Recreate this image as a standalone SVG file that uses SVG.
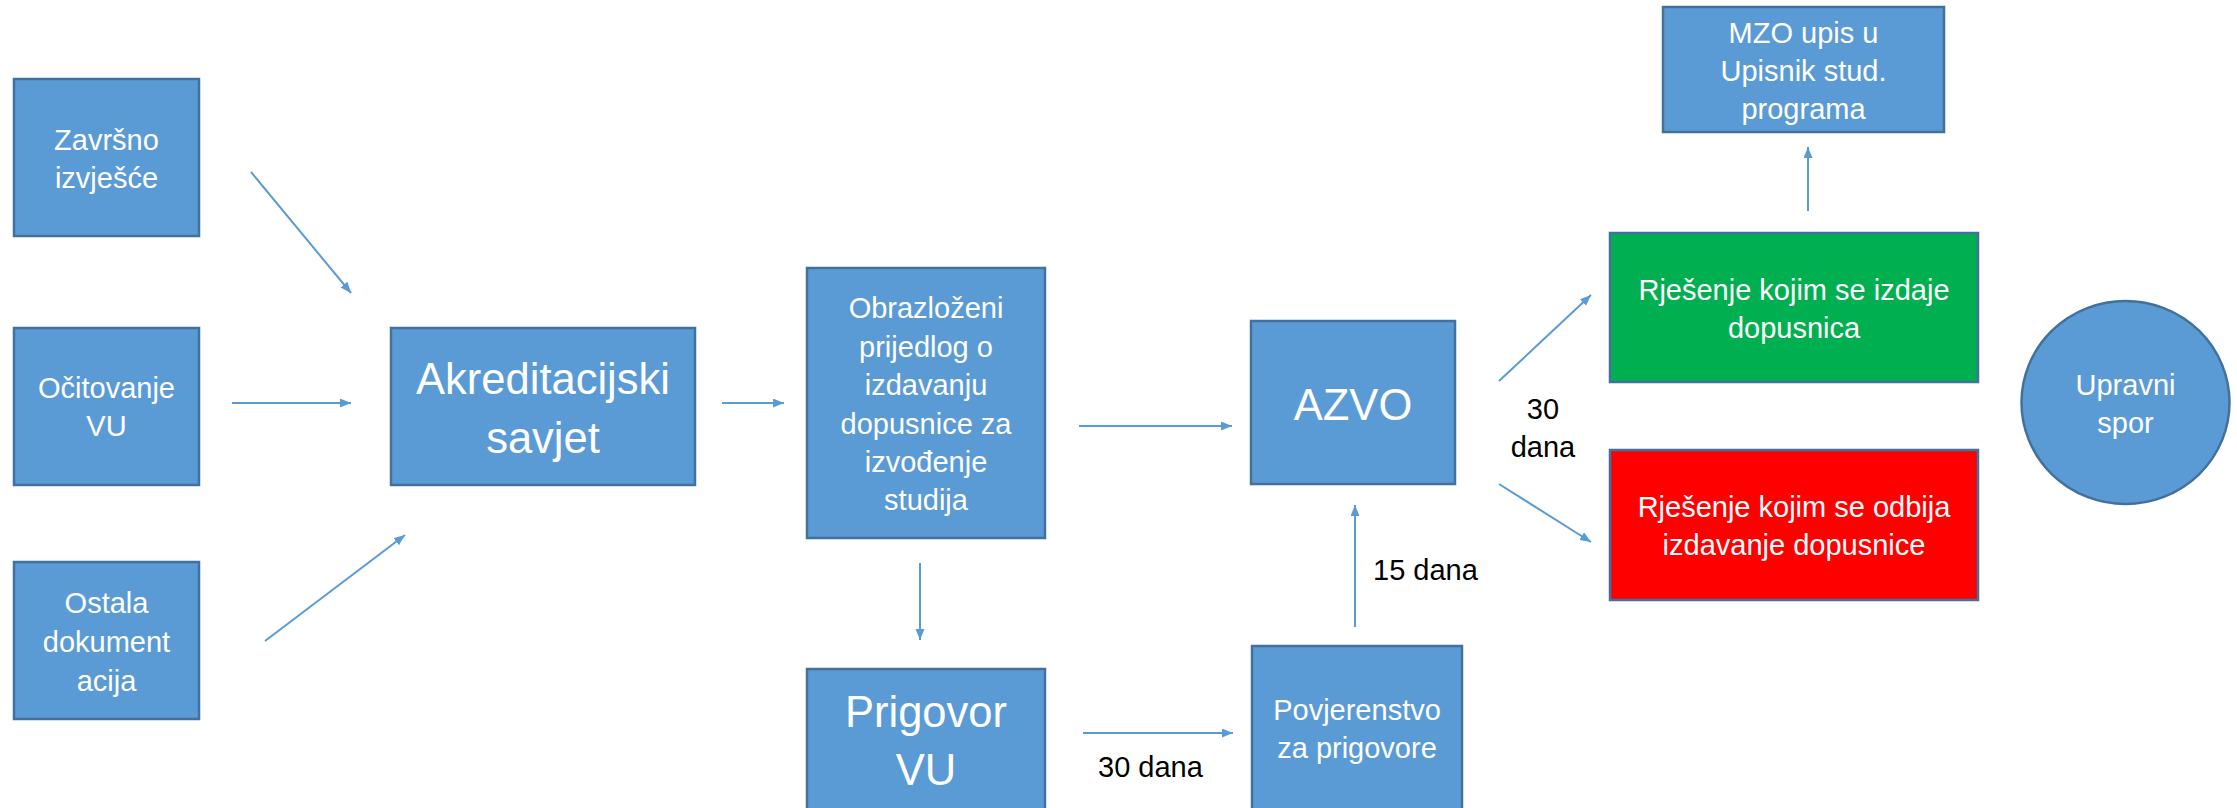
<svg xmlns="http://www.w3.org/2000/svg" width="2237" height="808" viewBox="0 0 2237 808">
<style>
.box{fill:#5B9BD5;stroke:#41719C;stroke-width:2.5}
.green{fill:#00B050;stroke:#41719C;stroke-width:2.5}
.red{fill:#FF0000;stroke:#41719C;stroke-width:2.5}
.t{font-family:"Liberation Sans",Arial,sans-serif;font-size:29px;fill:#FFFFFF;text-anchor:middle}
.big{font-size:43.5px}
.lbl{font-family:"Liberation Sans",Arial,sans-serif;font-size:29px;fill:#000000}
.c{fill:none;stroke:#5B9BD5;stroke-width:2;marker-end:url(#ah)}
</style>
<defs>
<marker id="ah" markerUnits="userSpaceOnUse" markerWidth="12" markerHeight="10" refX="11" refY="4.5" orient="auto">
<path d="M0,0 L11,4.5 L0,9 Z" fill="#5B9BD5"/>
</marker>
</defs>
<rect width="2237" height="808" fill="#FFFFFF"/>
<g id="connectors">
<line class="c" x1="251" y1="172" x2="351" y2="293"/>
<line class="c" x1="232" y1="403" x2="351" y2="403"/>
<line class="c" x1="265" y1="641" x2="405" y2="535"/>
<line class="c" x1="722" y1="403" x2="784" y2="403"/>
<line class="c" x1="1079" y1="426" x2="1232" y2="426"/>
<line class="c" x1="920" y1="563" x2="920" y2="640"/>
<line class="c" x1="1083" y1="733" x2="1233" y2="733"/>
<line class="c" x1="1355" y1="627" x2="1355" y2="505"/>
<line class="c" x1="1499" y1="381" x2="1591" y2="295"/>
<line class="c" x1="1499" y1="484" x2="1591" y2="542"/>
<line class="c" x1="1808" y1="211" x2="1808" y2="147"/>
<text class="lbl" x="1098" y="777">30 dana</text>
<text class="lbl" x="1373" y="580">15 dana</text>
<text class="lbl" x="1543" y="419" text-anchor="middle">30</text>
<text class="lbl" x="1543" y="457" text-anchor="middle">dana</text>
</g>
<g id="zavrsno">
<rect class="box" x="14" y="79" width="185" height="157"/>
<text class="t" x="106.5" y="150">Završno</text>
<text class="t" x="106.5" y="188">izvješće</text>
</g>
<g id="ocitovanje">
<rect class="box" x="14" y="328" width="185" height="157"/>
<text class="t" x="106.5" y="398">Očitovanje</text>
<text class="t" x="106.5" y="436">VU</text>
</g>
<g id="ostala">
<rect class="box" x="14" y="562" width="185" height="157"/>
<text class="t" x="106.5" y="613">Ostala</text>
<text class="t" x="106.5" y="652">dokument</text>
<text class="t" x="106.5" y="691">acija</text>
</g>
<g id="akreditacijski">
<rect class="box" x="391" y="328" width="304" height="157"/>
<text class="t big" x="543" y="394">Akreditacijski</text>
<text class="t big" x="543" y="453">savjet</text>
</g>
<g id="obrazlozeni">
<rect class="box" x="807" y="268" width="238" height="270"/>
<text class="t" x="926" y="318">Obrazloženi</text>
<text class="t" x="926" y="357">prijedlog o</text>
<text class="t" x="926" y="395">izdavanju</text>
<text class="t" x="926" y="434">dopusnice za</text>
<text class="t" x="926" y="472">izvođenje</text>
<text class="t" x="926" y="510">studija</text>
</g>
<g id="prigovor">
<rect class="box" x="807" y="669" width="238" height="141"/>
<text class="t big" x="926" y="727">Prigovor</text>
<text class="t big" x="926" y="785">VU</text>
</g>
<g id="azvo">
<rect class="box" x="1251" y="321" width="204" height="163"/>
<text class="t big" x="1353" y="420">AZVO</text>
</g>
<g id="povjerenstvo">
<rect class="box" x="1252" y="646" width="210" height="164"/>
<text class="t" x="1357" y="720">Povjerenstvo</text>
<text class="t" x="1357" y="758">za prigovore</text>
</g>
<g id="mzo">
<rect class="box" x="1663" y="7" width="281" height="125"/>
<text class="t" x="1803.5" y="43">MZO upis u</text>
<text class="t" x="1803.5" y="81">Upisnik stud.</text>
<text class="t" x="1803.5" y="119">programa</text>
</g>
<g id="izdaje">
<rect class="green" x="1610" y="233" width="368" height="149"/>
<text class="t" x="1794" y="300">Rješenje kojim se izdaje</text>
<text class="t" x="1794" y="338">dopusnica</text>
</g>
<g id="odbija">
<rect class="red" x="1610" y="450" width="368" height="150"/>
<text class="t" x="1794" y="517">Rješenje kojim se odbija</text>
<text class="t" x="1794" y="555">izdavanje dopusnice</text>
</g>
<g id="upravni">
<ellipse class="box" cx="2125.5" cy="402.5" rx="104" ry="101.5"/>
<text class="t" x="2125.5" y="395">Upravni</text>
<text class="t" x="2125.5" y="433">spor</text>
</g>
</svg>
